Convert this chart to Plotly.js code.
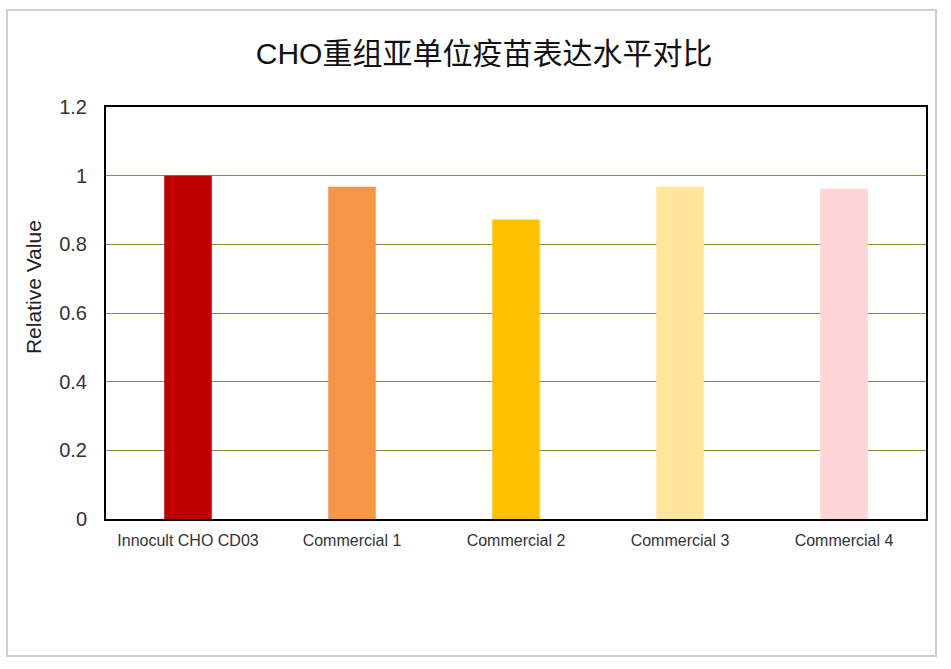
<!DOCTYPE html>
<html>
<head>
<meta charset="utf-8">
<script src="https://cdn.plot.ly/plotly-3.0.1.min.js"></script>
<style>
  html,body{margin:0;padding:0;background:#fff;}
  #chart{width:951px;height:669px;}
</style>
</head>
<body>
<div id="chart"></div>
<script>
// data
const categories = ["Innocult CHO CD03", "Commercial 1", "Commercial 2", "Commercial 3", "Commercial 4"];
const values = [1.0, 0.968, 0.872, 0.968, 0.962];
const barColors = ["#c00000", "#f79646", "#ffc000", "#ffe699", "#ffd5d5"];
const yTicks = [0, 0.2, 0.4, 0.6, 0.8, 1, 1.2];

const FONT = "Liberation Sans, Arial, Noto Sans CJK SC, sans-serif";

const trace = {
  type: "bar", x: categories, y: values, width: 0.29,
  marker: {color: barColors, line: {width: 0}},
  hoverinfo: "x+y"
};

const layout = {
  width: 951, height: 669,
  paper_bgcolor: "#fff", plot_bgcolor: "#fff",
  font: {family: FONT, color: "#222"},
  margin: {l: 106, r: 25, t: 107, b: 150},
  showlegend: false,
  title: {text: "CHO重组亚单位疫苗表达水平对比", x: 0.509, xref: "container", xanchor: "center",
          y: 54, yref: "container", yanchor: "middle",
          font: {family: FONT, size: 30, color: "#111"}},
  xaxis: {
    showline: true, linecolor: "#000", linewidth: 2, mirror: true,
    tickfont: {size: 16, color: "#333"}, ticks: "", ticklabelstandoff: 6
  },
  yaxis: {
    range: [0, 1.2], tickvals: yTicks, ticktext: yTicks.map(String),
    showline: true, linecolor: "#000", linewidth: 2, mirror: true,
    gridcolor: "#9a8540", gridwidth: 1, zeroline: false,
    tickfont: {size: 20, color: "#333"}, ticks: "", ticklabelstandoff: 13
  },
  // y title sits above the plot centre in the reference, so place it as an annotation
  annotations: [{text: "Relative Value", textangle: -90, showarrow: false,
                 xref: "paper", yref: "paper", x: -73/820, y: 0.563,
                 xanchor: "center", yanchor: "middle",
                 font: {size: 21, color: "#222"}}],
  shapes: [{type: "rect", xref: "paper", yref: "paper",
            x0: -99/820, x1: 1 + 10/820, y0: -137/412, y1: 1 + 97/412,
            line: {color: "#cfcfcf", width: 2}, layer: "below"}]
};

Plotly.newPlot("chart", [trace], layout, {displayModeBar: false, responsive: false});
</script>
</body>
</html>
